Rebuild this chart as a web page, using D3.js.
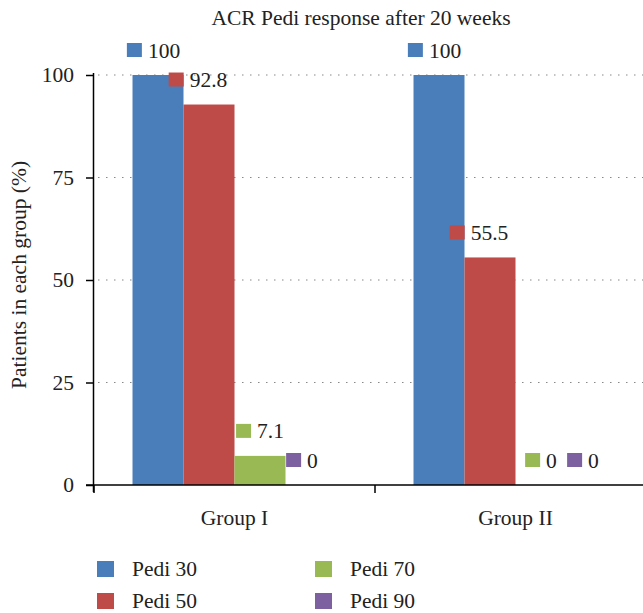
<!DOCTYPE html>
<html><head><meta charset="utf-8">
<script src="https://cdn.jsdelivr.net/npm/d3@7"></script>
<style>body{margin:0;background:#fff}svg{display:block}</style>
</head><body><svg id="c" width="643" height="613"></svg>
<script>
const title = "ACR Pedi response after 20 weeks";
const yLabel = "Patients in each group (%)";
const groups = ["Group I", "Group II"];
const seriesNames = ["Pedi 30", "Pedi 50", "Pedi 70", "Pedi 90"];
const pedi30 = [100, 100];
const pedi50 = [92.8, 55.5];
const pedi70 = [7.1, 0];
const pedi90 = [0, 0];
const yTicks = [0, 25, 50, 75, 100];
const colors = ["#4a7ebb", "#be4b48", "#98b954", "#7d60a0"];
const seriesValues = [pedi30, pedi50, pedi70, pedi90];

(function() {
const FONT = "'Liberation Serif', 'DejaVu Serif', serif";
const FS = "21.5px";
const svg = d3.select("#c");
const mL = 94, mR = 656, mT = 75, mB = 485;
const x0 = d3.scaleBand().domain(groups).range([mL, mR]).paddingInner(0).paddingOuter(0);
const x1 = d3.scaleBand().domain(seriesNames).range([0, x0.bandwidth()]).paddingOuter(0.755).paddingInner(0);
const y = d3.scaleLinear().domain([0, 100]).range([mB, mT]);
const txt = sel => sel.style("font-family", FONT).style("font-size", FS).attr("fill", "#222");

// gridlines
svg.append("g").selectAll("line").data(yTicks.filter(d => d > 0)).join("line")
  .attr("x1", mL + 4).attr("x2", 643).attr("y1", d => y(d)).attr("y2", d => y(d))
  .attr("stroke", "#888").attr("stroke-width", 1.2).attr("stroke-dasharray", "1.5,6.5");

// bars
const data = [];
groups.forEach((g, gi) => seriesNames.forEach((s, si) => data.push({g, s, si, v: seriesValues[si][gi]})));
svg.append("g").selectAll("rect").data(data).join("rect")
  .attr("x", d => x0(d.g) + x1(d.s)).attr("width", x1.bandwidth())
  .attr("y", d => y(d.v)).attr("height", d => mB - y(d.v))
  .attr("fill", d => colors[d.si]);

// y axis
const yAxis = d3.axisLeft(y).tickValues(yTicks).tickSize(8).tickPadding(12).tickFormat(d3.format("d"));
const ya = svg.append("g").attr("transform", `translate(${mL},0)`).call(yAxis);
ya.select(".domain").attr("d", `M-0.5,${mT - 2}V${mB + 7}`).attr("stroke", "#000").attr("stroke-width", 1.5);
ya.selectAll(".tick line").attr("stroke", "#000").attr("stroke-width", 1.5);
ya.selectAll(".tick text").call(txt);

// x axis
const xa = svg.append("g").attr("transform", `translate(0,${mB})`);
xa.append("line").attr("x1", mL - 8).attr("x2", 643).attr("y1", 0).attr("y2", 0).attr("stroke", "#000").attr("stroke-width", 1.5);
const bounds = [mL, x0(groups[1]), mR];
xa.selectAll("line.tk").data(bounds).join("line").attr("class", "tk")
  .attr("x1", d => d).attr("x2", d => d).attr("y1", 0).attr("y2", 8).attr("stroke", "#000").attr("stroke-width", 1.5);
xa.selectAll("text").data(groups).join("text")
  .attr("x", d => x0(d) + x0.bandwidth() / 2).attr("y", 40).attr("text-anchor", "middle")
  .call(txt).text(d => d);

// title & y label
svg.append("text").attr("x", 361).attr("y", 25).attr("text-anchor", "middle").call(txt).text(title);
svg.append("text").attr("transform", `translate(26,${275}) rotate(-90)`).attr("text-anchor", "middle").call(txt).text(yLabel);

// data labels
const lab = svg.append("g").selectAll("g").data(data).join("g");
lab.each(function(d) {
  const g = d3.select(this);
  const t = g.append("text").attr("x", 21).attr("y", 7.5).call(txt).text(d3.format("")(d.v));
  const w = 21 + t.node().getComputedTextLength();
  const cx = x0(d.g) + x1(d.s) + x1.bandwidth() / 2;
  const shift = [-4.5, -11, 0, -9][d.si];
  g.attr("transform", `translate(${cx - w / 2 + shift},${y(d.v) - 25})`);
  g.insert("rect", "text").attr("x", 0).attr("y", -7).attr("width", 15).attr("height", 14).attr("fill", colors[d.si]);
});

// legend
const leg = svg.append("g").selectAll("g").data(seriesNames).join("g")
  .attr("transform", (d, i) => `translate(${97 + Math.floor(i / 2) * 218},${561 + (i % 2) * 32})`);
leg.append("rect").attr("width", 17).attr("height", 16).attr("fill", (d, i) => colors[i]);
leg.append("text").attr("x", 35).attr("y", 15).call(txt).text(d => d);
})();
</script></body></html>
